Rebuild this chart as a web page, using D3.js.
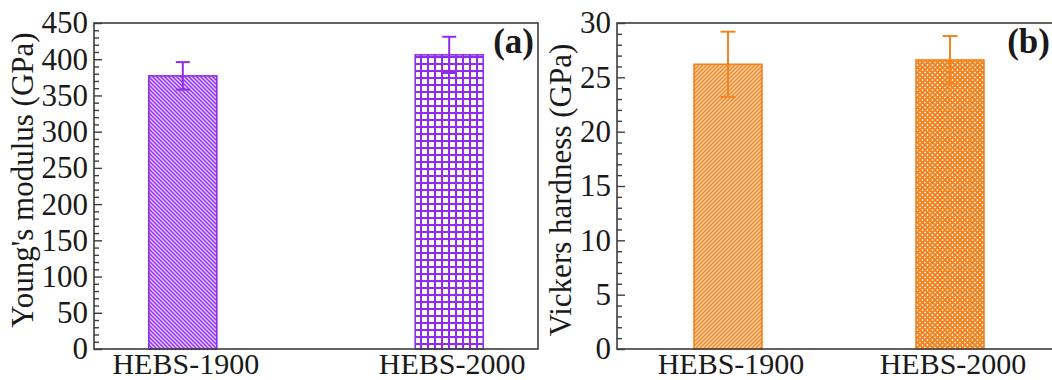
<!DOCTYPE html>
<html>
<head>
<meta charset="utf-8">
<script src="https://cdn.jsdelivr.net/npm/d3@7"></script>
<style>
  html, body { margin: 0; padding: 0; background: #ffffff; }
  svg { display: block; }
  text { font-family: "Liberation Serif", "Times New Roman", serif; fill: #1a1a1a; }
</style>
</head>
<body>
<svg id="chart" width="1052" height="380"></svg>
<script>
// Sample names shared by both panels
const categories = ["HEBS-1900", "HEBS-2000"];

// (a) Young's modulus, GPa
const modulusValues = [377, 406];
const modulusErrors = [19, 25];
const modulusTicks = [0, 50, 100, 150, 200, 250, 300, 350, 400, 450];

// (b) Vickers hardness, GPa
const hardnessValues = [26.2, 26.6];
const hardnessErrors = [3.0, 2.2];
const hardnessTicks = [0, 5, 10, 15, 20, 25, 30];

const svg = d3.select("#chart");
const defs = svg.append("defs");

const purple = "#8f2cf0";
const orange = "#f5831f";
const frameColor = "#3d3d3d";

// Fill patterns for the four bars
function hatch(id, size, bg, lines, color, width) {
  const p = defs.append("pattern")
    .attr("id", id)
    .attr("patternUnits", "userSpaceOnUse")
    .attr("width", size).attr("height", size);
  p.append("rect").attr("width", size).attr("height", size).attr("fill", bg);
  lines.forEach(d => {
    p.append("path").attr("d", d)
      .attr("stroke", color).attr("stroke-width", width)
      .attr("fill", "none");
  });
}
// back-diagonal hatch (\)
hatch("hatchPurple", 4, "#e6d3fc",
  ["M-1,-1 L5,5", "M-1,3 L1,5", "M3,-1 L5,1"], purple, 1.4);
// square grid
hatch("gridPurple", 7, "#ffffff",
  ["M0,1 H7", "M1,0 V7"], purple, 2.1);
// forward-diagonal hatch (/)
hatch("hatchOrange", 4, "#fcd6ae",
  ["M-1,5 L5,-1", "M-1,1 L1,-1", "M3,5 L5,3"], orange, 1.4);
// diagonal cross hatch
hatch("crossOrange", 5, "#ffffff",
  ["M-1,6 L6,-1", "M-1,1 L1,-1", "M4,6 L6,4",
   "M-1,-1 L6,6", "M-1,4 L1,6", "M4,-1 L6,1"], orange, 2.0);

function panel(cfg) {
  const g = svg.append("g");
  const x = d3.scalePoint()
    .domain(categories)
    .range([cfg.left, cfg.right])
    .padding(cfg.padding);
  const y = d3.scaleLinear()
    .domain([0, cfg.max])
    .range([cfg.bottom, cfg.top]);

  // minor ticks
  const minor = d3.range(0, cfg.max + 1e-9, cfg.minorStep)
    .filter(v => !cfg.ticks.some(t => Math.abs(t - v) < 1e-9));
  g.append("g")
    .attr("transform", `translate(${cfg.left},0)`)
    .call(d3.axisLeft(y).tickValues(minor).tickSize(-5).tickFormat(""))
    .call(a => a.select(".domain").remove())
    .call(a => a.selectAll("line").attr("stroke", frameColor).attr("stroke-width", 1.4));

  // major ticks and labels
  g.append("g")
    .attr("transform", `translate(${cfg.left},0)`)
    .call(d3.axisLeft(y).tickValues(cfg.ticks).tickSize(-8).tickPadding(6))
    .call(a => a.select(".domain").remove())
    .call(a => a.selectAll("line").attr("stroke", frameColor).attr("stroke-width", 1.4))
    .call(a => a.selectAll("text")
      .attr("font-family", '"Liberation Serif", serif')
      .attr("font-size", 31).attr("fill", "#1a1a1a"));

  // bars
  g.selectAll("rect.bar")
    .data(cfg.values)
    .join("rect")
    .attr("class", "bar")
    .attr("x", (d, i) => x(categories[i]) - cfg.barWidth / 2)
    .attr("width", cfg.barWidth)
    .attr("y", d => y(d))
    .attr("height", d => y(0) - y(d))
    .attr("fill", (d, i) => `url(#${cfg.fills[i]})`)
    .attr("stroke", cfg.color)
    .attr("stroke-width", 1.6);

  // error bars
  const eb = g.selectAll("g.err")
    .data(cfg.values.map((v, i) => ({ v, e: cfg.errors[i], c: categories[i] })))
    .join("g").attr("class", "err")
    .attr("stroke", cfg.color).attr("stroke-width", 2);
  eb.append("line")
    .attr("x1", d => x(d.c)).attr("x2", d => x(d.c))
    .attr("y1", d => y(d.v + d.e)).attr("y2", d => y(d.v - d.e));
  eb.append("line")
    .attr("x1", d => x(d.c) - cfg.cap).attr("x2", d => x(d.c) + cfg.cap)
    .attr("y1", d => y(d.v + d.e)).attr("y2", d => y(d.v + d.e));
  eb.append("line")
    .attr("x1", d => x(d.c) - cfg.cap).attr("x2", d => x(d.c) + cfg.cap)
    .attr("y1", d => y(d.v - d.e)).attr("y2", d => y(d.v - d.e));

  // frame
  g.append("rect")
    .attr("x", cfg.left).attr("y", cfg.top)
    .attr("width", cfg.right - cfg.left).attr("height", cfg.bottom - cfg.top)
    .attr("fill", "none").attr("stroke", frameColor).attr("stroke-width", 1.6);

  // category labels
  g.selectAll("text.cat")
    .data(categories)
    .join("text")
    .attr("class", "cat")
    .attr("x", d => x(d) + 3)
    .attr("y", 374)
    .attr("text-anchor", "middle")
    .attr("font-size", 30)
    .text(d => d);

  // axis title
  g.append("text")
    .attr("transform", `translate(${cfg.titleX},${cfg.titleY}) rotate(-90)`)
    .attr("text-anchor", "middle")
    .attr("font-size", 31)
    .text(cfg.title);

  // panel tag
  g.append("text")
    .attr("x", cfg.tagX).attr("y", 53)
    .attr("text-anchor", "end")
    .attr("font-size", 35).attr("font-weight", "bold")
    .text(cfg.tag);
}

panel({
  left: 94, right: 538, top: 23, bottom: 349, padding: 1 / 3,
  max: 450, ticks: modulusTicks, minorStep: 10,
  values: modulusValues, errors: modulusErrors,
  fills: ["hatchPurple", "gridPurple"], color: purple,
  barWidth: 68, cap: 7,
  title: "Young's modulus (GPa)", titleX: 33, titleY: 180,
  tag: "(a)", tagX: 534
});

panel({
  left: 617, right: 1061, top: 23, bottom: 349, padding: 0.5,
  max: 30, ticks: hardnessTicks, minorStep: 1,
  values: hardnessValues, errors: hardnessErrors,
  fills: ["hatchOrange", "crossOrange"], color: orange,
  barWidth: 68, cap: 7.5,
  title: "Vickers hardness (GPa)", titleX: 571, titleY: 190,
  tag: "(b)", tagX: 1050
});
</script>
</body>
</html>
